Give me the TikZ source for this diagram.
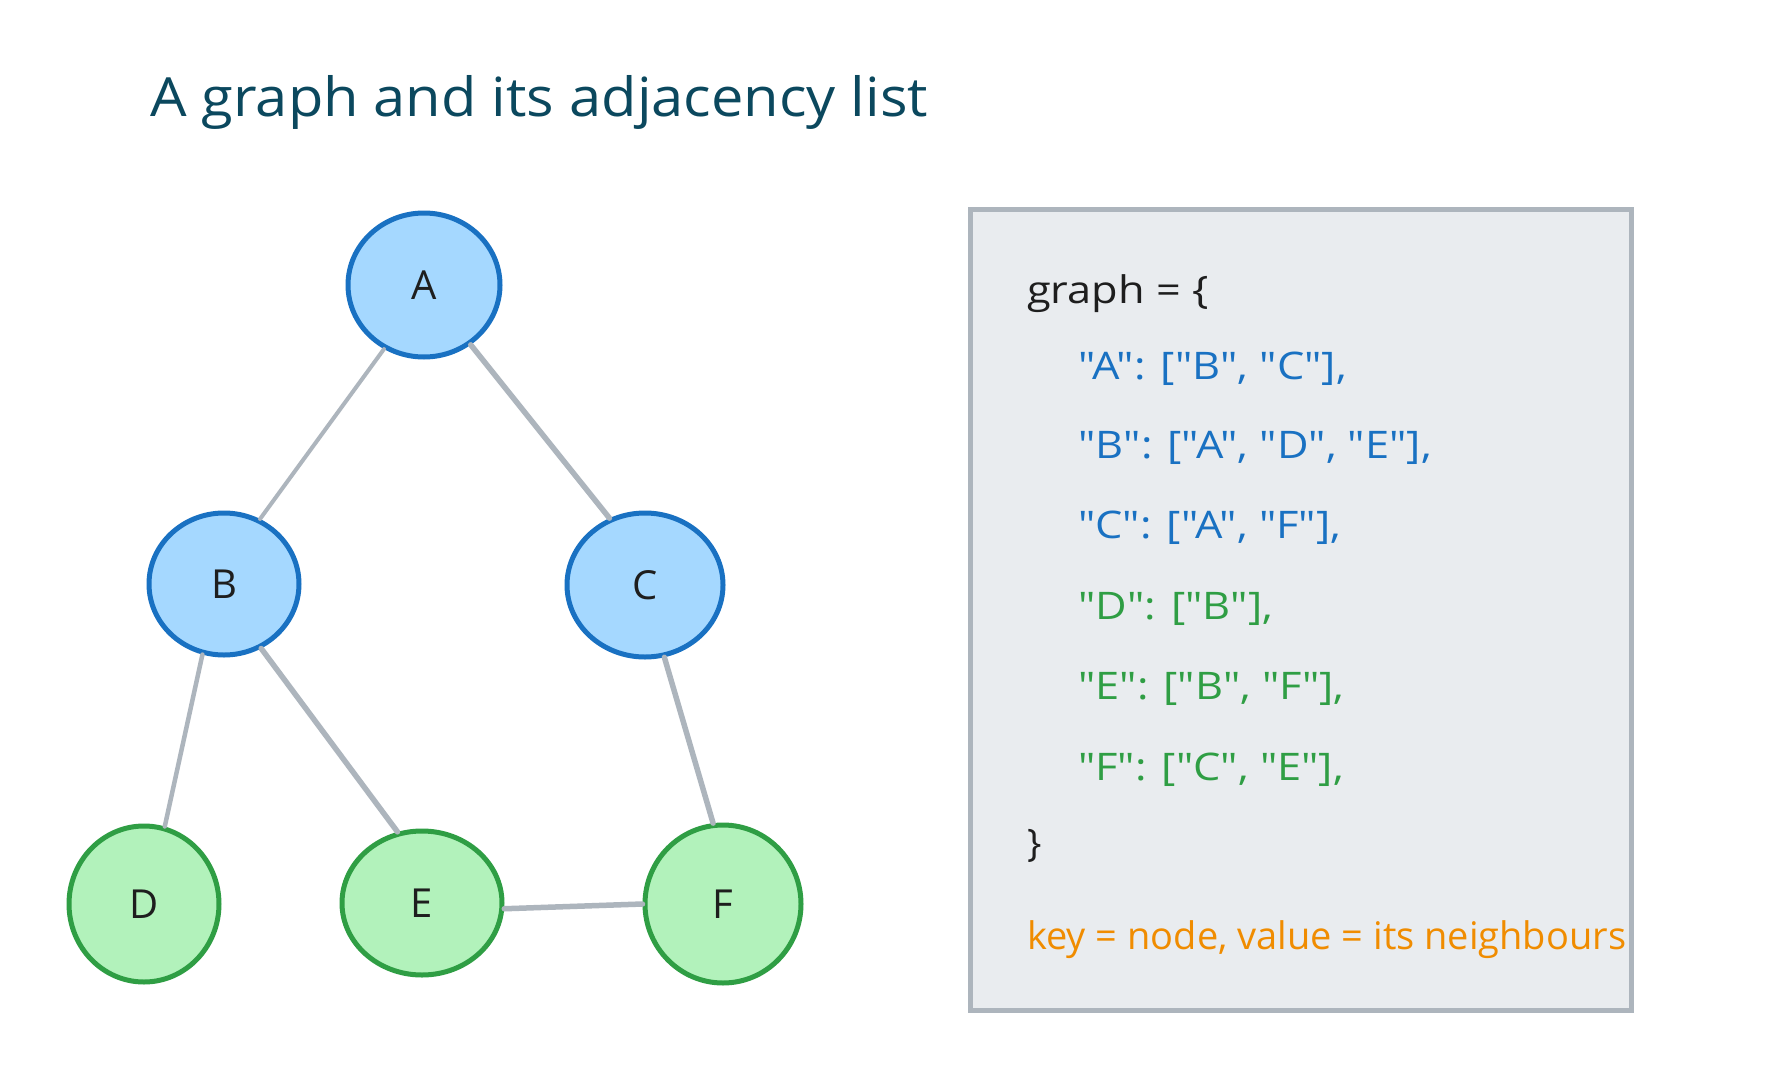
\documentclass[tikz,border=0pt]{standalone}
\usepackage{fontspec}
\setmainfont{Open Sans}
\newfontfamily\codefont{Open Sans}
\usetikzlibrary{shapes.geometric}
\definecolor{titlecol}{RGB}{11,72,94}
\definecolor{bluefill}{HTML}{A5D8FF}
\definecolor{bluestroke}{HTML}{1971C2}
\definecolor{greenfill}{HTML}{B2F2BB}
\definecolor{greenstroke}{HTML}{2F9E44}
\definecolor{edgecol}{HTML}{ADB5BD}
\definecolor{boxfill}{HTML}{E9ECEF}
\definecolor{inkcol}{HTML}{1E1E1E}
\definecolor{orangecol}{HTML}{F08C00}
\newcommand{\cw}[1]{\scalebox{1.14}[1]{#1}}
\tikzset{
  vertex/.style={ellipse, line width=5pt, inner sep=0pt, font=\fontsize{40}{44}\selectfont, text=inkcol},
  bluev/.style={vertex, fill=bluefill, draw=bluestroke},
  greenv/.style={vertex, fill=greenfill, draw=greenstroke},
  link/.style={draw=edgecol, line width=5.5pt, line cap=round},
  codeline/.style={anchor=mid west, inner sep=0pt, font=\codefont\fontsize{38}{44}\selectfont},
}
\begin{document}
\begin{tikzpicture}[x=1pt,y=-1pt]
\path[use as bounding box, fill=white] (0,0) rectangle (1770,1076);
% title
\node[anchor=base west, inner sep=0pt, text=titlecol, font=\fontsize{54}{60}\selectfont] (title) at (150,116) {\scalebox{1.07}[1]{A graph and its adjacency list}};
% graph nodes
\node[bluev, minimum width=152pt, minimum height=144pt] (A) at (424,285) {A};
\node[bluev, minimum width=150pt, minimum height=142pt] (B) at (224,584) {B};
\node[bluev, minimum width=156pt, minimum height=144pt] (C) at (645,585) {C};
\node[greenv, minimum width=150pt, minimum height=156pt] (D) at (144,904) {D};
\node[greenv, minimum width=160pt, minimum height=144pt] (E) at (422,903) {E};
\node[greenv, minimum width=156pt, minimum height=158pt] (F) at (723,904) {F};
% edges
\draw[link, line width=4pt] (A.238) -- (B.61);
\draw[link] (A.308) -- (C.118);
\draw[link, line width=4.5pt] (B.253) -- (D.75);
\draw[link] (B.300) -- (E.109);
\draw[link] (C.285) -- (F.97);
\draw[link] (E.356) -- (F.180);
% adjacency box
\node[draw=edgecol, fill=boxfill, line width=4.5pt, minimum width=661pt, minimum height=801pt, inner sep=0pt, anchor=north west] (box) at (968,207) {};
\node[codeline, text=inkcol] (l0) at (1027,301) {\cw{graph = \{}};
\node[codeline, text=bluestroke] (l1) at (1078,377) {\cw{"A": ["B", "C"],}};
\node[codeline, text=bluestroke] (l2) at (1078,456) {\cw{"B": ["A", "D", "E"],}};
\node[codeline, text=bluestroke] (l3) at (1078,536) {\cw{"C": ["A", "F"],}};
\node[codeline, text=greenstroke] (l4) at (1078,617) {\cw{"D": ["B"],}};
\node[codeline, text=greenstroke] (l5) at (1078,697) {\cw{"E": ["B", "F"],}};
\node[codeline, text=greenstroke] (l6) at (1078,778) {\cw{"F": ["C", "E"],}};
\node[codeline, text=inkcol] (l7) at (1027,854) {\}};
\node[codeline, text=orangecol] (note) at (1027,947) {key = node, value = its neighbours};
\end{tikzpicture}
\end{document}
